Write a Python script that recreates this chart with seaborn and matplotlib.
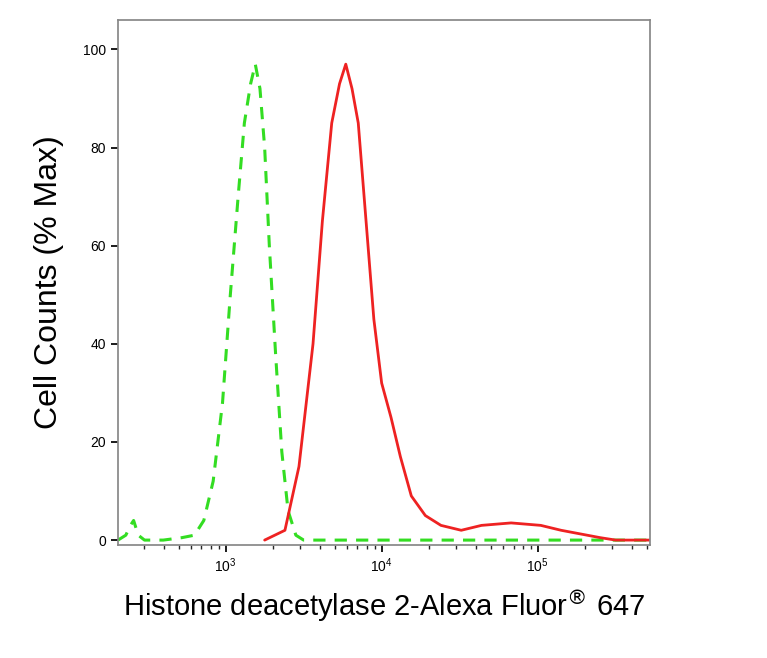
import numpy as np
import matplotlib
matplotlib.use("Agg")
import matplotlib.pyplot as plt
import seaborn as sns
import pandas as pd

green_log = [2.31,2.36,2.39,2.41,2.44,2.48,2.6,2.72,2.8,2.86,2.92,2.98,3.03,3.08,3.12,3.16,3.19,3.22,3.25,3.28,3.32,3.36,3.40,3.45,3.5,3.6,4.0,4.5,5.0,5.5,5.72]
green_y = [0,1,3,4,1,0,0,0.5,1,4,12,28,50,70,85,93,97,92,80,60,38,18,6,1,0,0,0,0,0,0,0]
red_log = [3.25,3.38,3.47,3.56,3.62,3.68,3.73,3.77,3.81,3.85,3.9,3.95,4.0,4.06,4.12,4.19,4.28,4.38,4.51,4.64,4.83,5.02,5.15,5.4,5.5,5.72]
red_y = [0,2,15,40,65,85,93,97,92,85,65,45,32,25,17,9,5,3,2,3,3.5,3,2,0.5,0,0]

sns.set_theme(style="white")
plt.rcParams['font.family'] = ['Liberation Sans', 'DejaVu Sans']
fig = plt.figure(figsize=(7.67, 6.58), dpi=100)
ax = fig.add_axes([118/767, 113/658, 532/767, 525/658])

g = pd.DataFrame({"x": 10**np.array(green_log), "y": green_y})
r = pd.DataFrame({"x": 10**np.array(red_log), "y": red_y})
sns.lineplot(data=g, x="x", y="y", ax=ax, color="#33dd22", lw=2.2, linestyle=(0, (4, 3)))
sns.lineplot(data=r, x="x", y="y", ax=ax, color="#ee2222", lw=2)
ax.set_xscale("log")
ax.set_xlim(10**2.31, 10**5.72)
ax.set_ylim(-1, 106)
ax.set_yticks([0, 20, 40, 60, 80, 100])
ax.set_xticks([1e3, 1e4, 1e5])
ax.tick_params(axis="both", labelsize=10, colors="black", length=5, direction="out", left=True, bottom=True)
ax.tick_params(axis="x", which="minor", length=3, bottom=True)
for s in ax.spines.values():
    s.set_color("#888888")
ax.set_xlabel("Histone deacetylase 2-Alexa Fluor$^{®}$ 647", fontsize=21, labelpad=10, color="black")
ax.set_ylabel("Cell Counts (% Max)", fontsize=23, labelpad=14, color="black")
fig.savefig("out.png", dpi=100)
